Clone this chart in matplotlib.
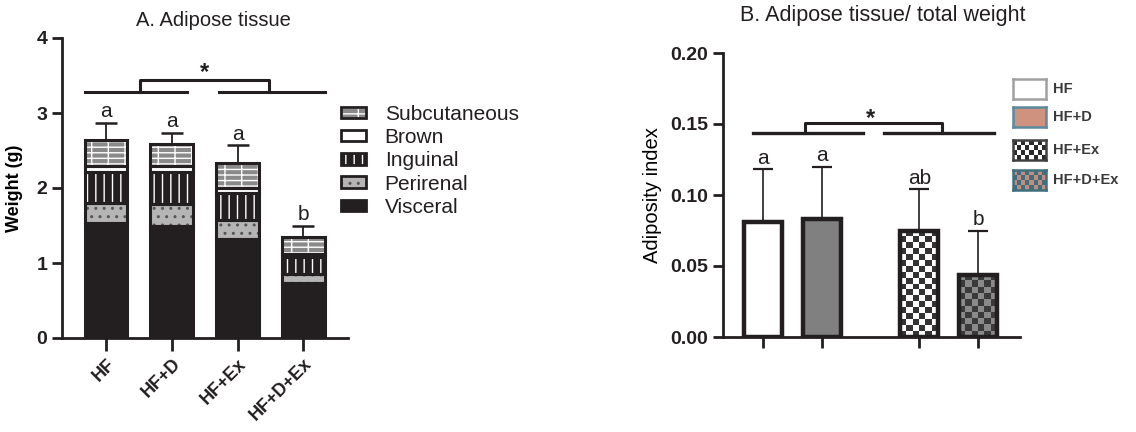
import matplotlib.pyplot as plt
import numpy as np
from matplotlib.patches import Patch
from matplotlib.colors import ListedColormap

plt.rcParams.update({'font.family': ['Liberation Sans', 'DejaVu Sans'], 'font.size': 14,
                     'hatch.linewidth': 1.0, 'text.color': '#231f20'})

INK = '#231f20'

# ---- panel A data (stacked weights, g) ----
groups = ['HF', 'HF+D', 'HF+Ex', 'HF+D+Ex']
visceral = [1.53, 1.49, 1.32, 0.73]
perirenal = [0.27, 0.30, 0.25, 0.13]
inguinal = [0.42, 0.42, 0.36, 0.22]
brown = [0.08, 0.09, 0.07, 0.04]
subcut = [0.34, 0.29, 0.34, 0.23]
total_err = [0.23, 0.15, 0.23, 0.15]
letters_a = ['a', 'a', 'a', 'b']

# ---- panel B data (adiposity index) ----
index_vals = [0.081, 0.083, 0.075, 0.044]
index_err = [0.037, 0.037, 0.029, 0.031]
letters_b = ['a', 'a', 'ab', 'b']
pos_b = [0, 1, 2.65, 3.65]

fig = plt.figure(figsize=(11.36, 4.32), dpi=100)

def style_axes(ax):
    for s in ['top', 'right']:
        ax.spines[s].set_visible(False)
    for s in ['left', 'bottom']:
        ax.spines[s].set_linewidth(2)
        ax.spines[s].set_color(INK)
    ax.tick_params(axis='y', length=7, width=2, colors=INK, labelsize=14)
    ax.tick_params(axis='x', length=9, width=2, colors=INK)
    for t in ax.get_yticklabels():
        t.set_fontweight('bold')

# ================= Panel A =================
axA = fig.add_axes([62/1136, 1-338/432, (348-62)/1136, 300/432])
x = np.arange(len(groups))
w = 0.65
layers = [
    ('Visceral', visceral, INK, '', INK),
    ('Perirenal', perirenal, '#b5b5b5', '..', '#555555'),
    ('Inguinal', inguinal, INK, '||', 'white'),
    ('Brown', brown, 'white', '', 'white'),
    ('Subcutaneous', subcut, '#8a8a8a', '---|', 'white'),
]
bottom = np.zeros(len(groups))
handles = {}
for name, vals, face, hatch, hcol in layers:
    axA.bar(x, vals, w, bottom=bottom, color=face, hatch=hatch, edgecolor=hcol, lw=0, zorder=2)
    axA.bar(x, vals, w, bottom=bottom, fill=False, edgecolor=INK, lw=2.2, zorder=3)
    handles[name] = (Patch(facecolor=face, hatch=hatch, edgecolor=hcol, lw=0),
                     Patch(fill=False, edgecolor=INK, lw=2))
    bottom = bottom + np.array(vals)

totals = bottom
axA.errorbar(x, totals, yerr=[np.zeros(4), total_err], fmt='none', ecolor=INK,
             elinewidth=1.3, capsize=8, capthick=1.8, zorder=4)
for xi, t, e, lab in zip(x, totals, total_err, letters_a):
    axA.annotate(lab, (xi, t + e), xytext=(0, 1), textcoords='offset points',
                 ha='center', va='bottom', fontsize=15)

# significance bracket
yl, yb = 3.28, 3.44
axA.plot([x[0] - w/2, x[1] + w/2 - 0.1], [yl, yl], color=INK, lw=2.2, clip_on=False)
axA.plot([x[2] - w/2 + 0.05, x[3] + w/2], [yl, yl], color=INK, lw=2.2, clip_on=False)
axA.plot([0.52, 0.52, 2.48, 2.48], [yl, yb, yb, yl], color=INK, lw=2.2, clip_on=False)
axA.text(1.5, 3.39, '*', ha='center', va='bottom', fontsize=17, fontweight='bold')

axA.set_xlim(-0.67, 3.68)
axA.set_ylim(0, 4)
axA.set_yticks([0, 1, 2, 3, 4])
axA.set_xticks(x)
axA.set_xticklabels(groups, rotation=45, ha='right', rotation_mode='anchor',
                    fontweight='bold', fontsize=13)
axA.set_ylabel('Weight (g)', fontweight='bold', fontsize=13, labelpad=10)
style_axes(axA)
axA.spines['left'].set_bounds(0, 4)

order = ['Subcutaneous', 'Brown', 'Inguinal', 'Perirenal', 'Visceral']
fig.legend([handles[n] for n in order], order, loc='upper left',
           bbox_to_anchor=(341/1136, 1-105/432), frameon=False, fontsize=15,
           handlelength=1.2, handleheight=0.45, handletextpad=0.9, labelspacing=0.2,
           borderpad=0, borderaxespad=0)

fig.text(213/1136, 1-21/432, 'A. Adipose tissue', ha='center', va='center', fontsize=14.5)

# ================= Panel B =================
axB = fig.add_axes([723/1136, 1-337/432, (1020-723)/1136, 284/432])
axB.set_xlim(-0.68, 4.36)
axB.set_ylim(0, 0.2)
axB.set_autoscale_on(False)
wb = 0.64

def checker(ax, bar, c1, c2, size_px=6):
    x0, y0 = bar.get_x(), bar.get_y()
    bw, bh = bar.get_width(), bar.get_height()
    p0 = ax.transData.transform((x0, y0))
    p1 = ax.transData.transform((x0 + bw, y0 + bh))
    nc = max(1, int(round((p1[0] - p0[0]) / size_px)))
    nr = max(1, int(round((p1[1] - p0[1]) / size_px)))
    img = np.add.outer(np.arange(nr), np.arange(nc)) % 2
    im = ax.imshow(img, cmap=ListedColormap([c1, c2]), extent=(x0, x0 + bw, y0, y0 + bh),
                   origin='lower', aspect='auto', interpolation='nearest', zorder=1.5)
    im.set_clip_path(bar)

fills = ['white', '#808080', None, None]
checks = [None, None, ('#333333', 'white'), ('#3a3a3a', '#8a8a8a')]
bars = axB.bar(pos_b, index_vals, wb, color='none', edgecolor=INK, lw=3.2, zorder=2)
for b, f, c in zip(bars, fills, checks):
    if f is not None:
        b.set_facecolor(f)
    else:
        checker(axB, b, *c)

axB.errorbar(pos_b, index_vals, yerr=[np.zeros(4), index_err], fmt='none', ecolor=INK,
             elinewidth=1.2, capsize=7, capthick=1.6, zorder=1)
for xi, v, e, lab in zip(pos_b, index_vals, index_err, letters_b):
    axB.annotate(lab, (xi, v + e), xytext=(0, 1), textcoords='offset points',
                 ha='center', va='bottom', fontsize=15)

yl, yb = 0.1435, 0.151
axB.plot([-0.17, 1.69], [yl, yl], color=INK, lw=2.4)
axB.plot([2.05, 3.92], [yl, yl], color=INK, lw=2.4)
axB.plot([0.71, 0.71, 3.03, 3.03], [yl, yb, yb, yl], color=INK, lw=2.2)
axB.text(1.83, 0.146, '*', ha='center', va='bottom', fontsize=17, fontweight='bold')

axB.set_yticks([0, 0.05, 0.10, 0.15, 0.20])
axB.set_yticklabels(['0.00', '0.05', '0.10', '0.15', '0.20'])
axB.set_xticks(pos_b)
axB.set_xticklabels([])
axB.set_ylabel('Adiposity index', fontsize=14.5, labelpad=6)
style_axes(axB)
axB.tick_params(axis='x', length=8)

fig.text(883/1136, 1-15/432, 'B. Adipose tissue/ total weight', ha='center', va='center', fontsize=15.5)

# right legend swatches
leg_b = [('HF', 'white', None, '#a0a0a0'),
         ('HF+D', '#cf927e', None, '#5b8aa0'),
         ('HF+Ex', None, ('#2a2a2a', 'white'), '#404040'),
         ('HF+D+Ex', None, ('#c48c7c', '#3f6f7f'), '#3f6f7f')]
rows_y = [89, 117, 150, 180]
for (lab, face, chk, edge), yc in zip(leg_b, rows_y):
    sw = fig.add_axes([1013/1136, 1-(yc + 10)/432, 33/1136, 20/432])
    sw.set_xticks([]); sw.set_yticks([])
    if chk is not None:
        img = np.add.outer(np.arange(4), np.arange(8)) % 2
        sw.imshow(img, cmap=ListedColormap(list(chk)), aspect='auto', interpolation='nearest')
    else:
        sw.set_facecolor(face)
    for s in sw.spines.values():
        s.set_color(edge)
        s.set_linewidth(1.8)
    fig.text(1053/1136, 1-yc/432, lab, ha='left', va='center', fontsize=10.5,
             fontweight='bold', color='#3a3a3a')

fig.savefig('out.png', dpi=100)
